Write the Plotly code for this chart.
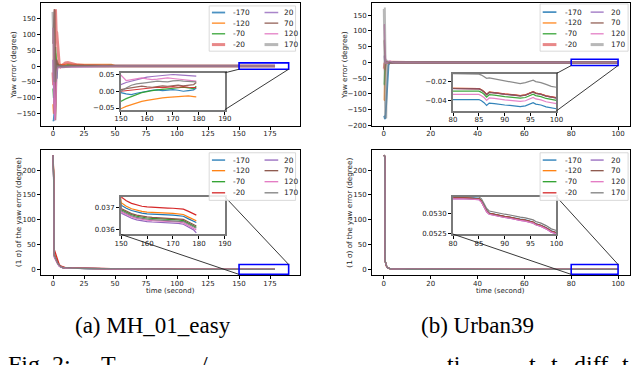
import plotly.graph_objects as go

W, H = 640, 365

series_labels = ["-170", "-120", "-70", "-20", "20", "70", "120", "170"]
series_colors = ["#1f77b4", "#ff7f0e", "#2ca02c", "#d62728",
                 "#9467bd", "#8c564b", "#e377c2", "#7f7f7f"]

# ---------------- MH_01_easy : time grids ----------------
t_mh_head = [0, 0.5, 1, 1.5, 2, 2.5, 3, 3.5, 4, 5, 6, 8, 10, 12, 15, 20, 25, 30,
             40, 47, 50, 60, 80, 100, 120, 140]
t_mh_tail = [150, 152, 154, 156, 158, 160, 162, 164, 166, 168, 170, 172, 174,
             176, 178, 179]

# yaw error (degree), MH_01_easy
yaw_mh_head = [
    [-170, -172, -150, -60, 20, -10, -40, -5, 2, 0, -2, -3, -1, 1, 0, -1, 0, 0.5, 0, 0.5, 0.2, 0.1, 0.05, 0.02, 0.01, 0.0],
    [-120, -150, -100, -30, 40, 10, -10, 5, 0, 3, 5, 4, 5, 6, 5, 4, 5, 5, 4, 5, 1, 0.5, 0.1, 0.05, 0.0, -0.02],
    [-70, -100, -40, 20, 60, 30, -5, 10, 5, 2, 0, -2, 1, 3, 2, 1, 0, 1, 0, 2, 0.3, 0.1, 0.05, 0.02, 0.0, -0.01],
    [-20, -60, 50, 150, 178, 110, 105, 80, 40, 5, -2, 5, 10, 11, 8, 3, 2, 1, 0.5, 0.5, 0.2, 0.1, 0.05, 0.02, 0.01, 0.0],
    [20, -80, -150, -30, 20, 10, -10, 0, -5, -2, -3, -4, -3, -2, -2, -3, -2, -1, -2, -1, -0.3, 0.1, 0.05, 0.05, 0.04, 0.04],
    [70, 150, 178, 175, -170, -120, 20, 10, 5, 0, 2, 0, -1, 0, 1, 0, 0, 0.5, 0.3, 0.2, 0.1, 0.05, 0.03, 0.02, 0.01, 0.01],
    [120, 60, -120, -170, -140, -60, -20, -10, -5, -3, -5, -4, -5, -4, -3, -2, -3, -2, -1, -2, -0.5, -0.2, 0.05, 0.04, 0.04, 0.04],
    [170, 120, 20, -50, -45, -10, 0, -2, -1, 0, -1, -2, -1, 0, 0.5, 0.3, 0.2, 0.1, 0.1, 0.1, 0.05, 0.03, 0.02, 0.02, 0.01, 0.0],
]
yaw_mh_tail = [
    [-0.004, -0.008, -0.01, -0.006, -0.002, 0.0, 0.003, 0.004, 0.002, 0.004, 0.005, 0.003, 0.0, 0.002, 0.004, 0.01],
    [-0.052, -0.045, -0.04, -0.034, -0.03, -0.027, -0.024, -0.022, -0.02, -0.018, -0.017, -0.015, -0.013, -0.014, -0.016, -0.017],
    [-0.03, -0.022, -0.015, -0.01, -0.004, 0.0, 0.002, 0.004, 0.006, 0.008, 0.009, 0.011, 0.012, 0.01, 0.008, 0.015],
    [0.0, 0.002, 0.004, 0.005, 0.007, 0.009, 0.01, 0.012, 0.011, 0.013, 0.014, 0.012, 0.014, 0.012, 0.01, 0.011],
    [0.02, 0.026, 0.03, 0.035, 0.04, 0.042, 0.044, 0.046, 0.047, 0.049, 0.05, 0.049, 0.048, 0.047, 0.046, 0.045],
    [0.005, 0.008, 0.01, 0.014, 0.015, 0.013, 0.012, 0.014, 0.016, 0.015, 0.017, 0.018, 0.016, 0.018, 0.02, 0.026],
    [0.048, 0.032, 0.034, 0.038, 0.04, 0.037, 0.035, 0.036, 0.038, 0.04, 0.038, 0.036, 0.035, 0.034, 0.032, 0.03],
    [0.0, 0.01, 0.018, 0.022, 0.025, 0.026, 0.028, 0.03, 0.029, 0.028, 0.031, 0.032, 0.03, 0.029, 0.028, 0.028],
]

# 1-sigma of yaw error (degree), MH_01_easy
sig_mh_head = [
    [230, 190, 30, 25, 22, 20, 18, 15, 12, 8, 6, 3.5, 3, 2.8, 2.6, 2.3, 2.1, 1.9, 1.7, 1.4, 1.0, 0.6, 0.3, 0.15, 0.08, 0.05],
    [230, 195, 33, 28, 25, 22, 20, 16, 13, 9, 6.5, 4, 3.2, 3, 2.7, 2.4, 2.2, 2.0, 1.8, 1.5, 1.0, 0.6, 0.3, 0.15, 0.08, 0.05],
    [230, 185, 28, 24, 21, 19, 17, 14, 11, 7.5, 5.5, 3.5, 3, 2.8, 2.5, 2.2, 2.0, 1.8, 1.6, 1.3, 0.9, 0.5, 0.28, 0.14, 0.07, 0.05],
    [230, 200, 40, 36, 33, 31, 28, 22, 18, 10, 7, 4.5, 3.5, 3.2, 2.9, 2.6, 2.4, 2.1, 1.9, 1.6, 1.1, 0.7, 0.35, 0.17, 0.09, 0.05],
    [230, 180, 25, 22, 19, 17, 15, 12, 10, 7, 5, 3.2, 2.8, 2.6, 2.4, 2.1, 1.9, 1.7, 1.5, 1.2, 0.9, 0.5, 0.27, 0.13, 0.07, 0.05],
    [230, 185, 27, 23, 20, 18, 16, 13, 11, 7.5, 5.5, 3.4, 2.9, 2.7, 2.5, 2.2, 2.0, 1.8, 1.6, 1.3, 0.9, 0.55, 0.28, 0.14, 0.07, 0.05],
    [230, 182, 26, 22, 20, 18, 15, 13, 10, 7, 5, 3.3, 2.8, 2.6, 2.4, 2.1, 1.9, 1.7, 1.5, 1.2, 0.9, 0.5, 0.27, 0.13, 0.07, 0.05],
    [230, 188, 29, 25, 22, 20, 17, 14, 11.5, 8, 5.8, 3.6, 3, 2.8, 2.5, 2.2, 2.0, 1.8, 1.6, 1.3, 0.95, 0.55, 0.28, 0.14, 0.07, 0.05],
]
sig_mh_tail = [
    [0.0371, 0.03696, 0.03686, 0.03679, 0.03674, 0.03671, 0.03669, 0.03668, 0.03667, 0.03666, 0.03665, 0.03663, 0.0366, 0.03648, 0.03637, 0.03632],
    [0.03721, 0.03705, 0.03694, 0.03687, 0.03682, 0.03679, 0.03677, 0.03676, 0.03675, 0.03674, 0.03673, 0.03671, 0.03668, 0.03656, 0.03645, 0.0364],
    [0.0369, 0.03677, 0.03667, 0.0366, 0.03655, 0.03652, 0.0365, 0.03649, 0.03648, 0.03647, 0.03646, 0.03644, 0.0364, 0.03628, 0.03615, 0.0361],
    [0.03747, 0.0373, 0.03718, 0.0371, 0.03705, 0.03702, 0.037, 0.03699, 0.03698, 0.03697, 0.03696, 0.03694, 0.03692, 0.03682, 0.0367, 0.03665],
    [0.03674, 0.03661, 0.03651, 0.03644, 0.03639, 0.03636, 0.03634, 0.03633, 0.03632, 0.03631, 0.0363, 0.03628, 0.03624, 0.03612, 0.03598, 0.03585],
    [0.03695, 0.03682, 0.03672, 0.03665, 0.0366, 0.03657, 0.03655, 0.03654, 0.03653, 0.03652, 0.03651, 0.03649, 0.03646, 0.03634, 0.03622, 0.03616],
    [0.0368, 0.03667, 0.03657, 0.0365, 0.03645, 0.03642, 0.0364, 0.03639, 0.03638, 0.03637, 0.03636, 0.03634, 0.0363, 0.03618, 0.03604, 0.03598],
    [0.03685, 0.03672, 0.03662, 0.03655, 0.0365, 0.03647, 0.03645, 0.03644, 0.03643, 0.03642, 0.03641, 0.03639, 0.03636, 0.03624, 0.03612, 0.03606],
]

# ---------------- Urban39 : time grids ----------------
t_ur_head = [0, 0.2, 0.4, 0.6, 0.8, 1.0, 1.3, 1.6, 2, 2.5, 3, 3.5, 4, 5, 7, 10, 20, 40, 60, 75]
t_ur_tail = [80, 82, 84, 85, 85.5, 86, 86.5, 87, 88, 89, 90, 91, 92, 93, 94, 95, 95.5,
             96, 97, 98, 99, 100]

yaw_ur_head = [
    [-170, -172, -178, -180, -160, -130, -85, -40, -8, -2, 0, -1, 0, 0.5, 0.2, 0.1, 0.0, -0.01, -0.02, -0.025],
    [-120, -120, -60, -10, -3, 2, 1, 0, 0, -0.5, 0, 0.3, 0, 0.2, 0.1, 0.0, -0.01, -0.02, -0.025, -0.027],
    [-70, -70, -30, -5, 0, 1, 0.5, 0, 0.2, 0, -0.3, 0.1, 0, 0.1, 0.05, 0, -0.01, -0.02, -0.025, -0.03],
    [-20, -20, -5, 0, 1, 0.5, 0, 0.2, 0, 0, 0.2, 0.1, 0, 0.1, 0.05, 0, -0.01, -0.02, -0.025, -0.027],
    [20, 20, 5, 0, -1, 0.5, 0, 0.2, 0, 0, 0.2, 0.1, 0, 0.1, 0.05, 0, -0.01, -0.02, -0.025, -0.027],
    [70, 70, 30, 5, 0, 1, 0, 0.5, 0, 0, 0.3, 0.1, 0, 0.1, 0.05, 0, -0.01, -0.02, -0.025, -0.027],
    [120, 120, 60, 10, -5, -2, 0, 2, 4, 5, 3, 1, 0, 0.3, 0.1, 0.0, -0.02, -0.025, -0.03, -0.033],
    [170, 170, 60, -100, -178, -60, -5, 2, 0, 0.5, 0.2, 0.1, 0, 0.1, 0.05, 0.0, -0.005, -0.01, -0.01, -0.011],
]
yaw_ur_tail = [
    [-0.0392, -0.039, -0.0393, -0.0392, -0.0405, -0.0425, -0.0455, -0.043, -0.0435, -0.0445, -0.045, -0.0455, -0.0465, -0.0467, -0.046, -0.0435, -0.0425, -0.044, -0.045, -0.047, -0.048, -0.049],
    [-0.0275, -0.0273, -0.0276, -0.0275, -0.0288, -0.0308, -0.0338, -0.0313, -0.0318, -0.0328, -0.0333, -0.0338, -0.0348, -0.035, -0.0343, -0.0318, -0.0308, -0.0323, -0.0333, -0.0353, -0.0363, -0.0373],
    [-0.0302, -0.03, -0.0303, -0.0302, -0.0315, -0.0335, -0.0365, -0.034, -0.0345, -0.0355, -0.036, -0.0365, -0.0375, -0.0377, -0.037, -0.0345, -0.0335, -0.035, -0.036, -0.038, -0.039, -0.04],
    [-0.0274, -0.0272, -0.0275, -0.0274, -0.0287, -0.0307, -0.0337, -0.0312, -0.0317, -0.0327, -0.0332, -0.0337, -0.0347, -0.0349, -0.0342, -0.0317, -0.0307, -0.0322, -0.0332, -0.0352, -0.0362, -0.0372],
    [-0.0278, -0.0276, -0.0279, -0.0278, -0.0291, -0.0311, -0.0341, -0.0316, -0.0321, -0.0331, -0.0336, -0.0341, -0.0351, -0.0353, -0.0346, -0.0321, -0.0311, -0.0326, -0.0336, -0.0356, -0.0366, -0.0376],
    [-0.0277, -0.0275, -0.0278, -0.0277, -0.029, -0.031, -0.034, -0.0315, -0.032, -0.033, -0.0335, -0.034, -0.035, -0.0352, -0.0345, -0.032, -0.031, -0.0325, -0.0335, -0.0355, -0.0365, -0.0375],
    [-0.0337, -0.0335, -0.0338, -0.0337, -0.035, -0.037, -0.04, -0.0375, -0.038, -0.039, -0.0395, -0.04, -0.041, -0.0412, -0.0405, -0.038, -0.037, -0.0385, -0.0395, -0.0415, -0.0425, -0.0435],
    [-0.0115, -0.012, -0.0118, -0.012, -0.013, -0.015, -0.0165, -0.016, -0.017, -0.018, -0.019, -0.0205, -0.0215, -0.0222, -0.021, -0.0195, -0.0185, -0.02, -0.021, -0.023, -0.025, -0.026],
]

sig_ur_head = [
    [230, 229, 228, 16, 10, 7, 4.5, 3, 2, 1.5, 1.2, 1.0, 0.8, 0.6, 0.4, 0.3, 0.15, 0.08, 0.06, 0.055],
    [230, 229, 228, 16, 10, 7, 4.5, 3, 2, 1.5, 1.2, 1.0, 0.8, 0.6, 0.4, 0.3, 0.15, 0.08, 0.06, 0.055],
    [230, 229, 228, 15.5, 9.8, 6.9, 4.4, 3, 2, 1.5, 1.2, 1.0, 0.8, 0.6, 0.4, 0.3, 0.15, 0.08, 0.06, 0.055],
    [230, 229, 228, 16.5, 10.2, 7.1, 4.6, 3.1, 2.1, 1.5, 1.2, 1.0, 0.8, 0.6, 0.4, 0.3, 0.15, 0.08, 0.06, 0.055],
    [230, 229, 228, 15.5, 9.8, 6.9, 4.4, 3, 2, 1.5, 1.2, 1.0, 0.8, 0.6, 0.4, 0.3, 0.15, 0.08, 0.06, 0.055],
    [230, 229, 228, 16, 10, 7, 4.5, 3, 2, 1.5, 1.2, 1.0, 0.8, 0.6, 0.4, 0.3, 0.15, 0.08, 0.06, 0.055],
    [230, 229, 228, 16, 10, 7, 4.5, 3, 2, 1.5, 1.2, 1.0, 0.8, 0.6, 0.4, 0.3, 0.15, 0.08, 0.06, 0.055],
    [230, 229, 228, 16.5, 10.3, 7.2, 4.6, 3.1, 2.1, 1.6, 1.2, 1.0, 0.8, 0.6, 0.4, 0.3, 0.15, 0.08, 0.06, 0.055],
]
sig_ur_tail = [
    [0.05339, 0.05339, 0.05338, 0.05337, 0.05331, 0.05319, 0.05307, 0.05301, 0.05298, 0.05295, 0.05293, 0.05291, 0.05288, 0.05286, 0.05284, 0.05281, 0.05279, 0.05275, 0.05271, 0.05265, 0.05257, 0.05253],
    [0.05338, 0.05338, 0.05337, 0.05336, 0.0533, 0.05318, 0.05306, 0.053, 0.05297, 0.05294, 0.05292, 0.0529, 0.05287, 0.05285, 0.05283, 0.0528, 0.05278, 0.05274, 0.0527, 0.05264, 0.05256, 0.05252],
    [0.05337, 0.05337, 0.05336, 0.05335, 0.05329, 0.05317, 0.05305, 0.05299, 0.05296, 0.05293, 0.05291, 0.05289, 0.05286, 0.05284, 0.05282, 0.05279, 0.05277, 0.05273, 0.05269, 0.05263, 0.05255, 0.05251],
    [0.05338, 0.05338, 0.05337, 0.05336, 0.0533, 0.05318, 0.05306, 0.053, 0.05297, 0.05294, 0.05292, 0.0529, 0.05287, 0.05285, 0.05283, 0.0528, 0.05278, 0.05274, 0.0527, 0.05264, 0.05256, 0.05252],
    [0.05336, 0.05336, 0.05335, 0.05334, 0.05328, 0.05316, 0.05304, 0.05298, 0.05295, 0.05292, 0.0529, 0.05288, 0.05285, 0.05283, 0.05281, 0.05278, 0.05276, 0.05272, 0.05268, 0.05262, 0.05254, 0.0525],
    [0.05338, 0.05338, 0.05337, 0.05336, 0.0533, 0.05318, 0.05306, 0.053, 0.05297, 0.05294, 0.05292, 0.0529, 0.05287, 0.05285, 0.05283, 0.0528, 0.05278, 0.05274, 0.0527, 0.05264, 0.05256, 0.05252],
    [0.05336, 0.05336, 0.05335, 0.05334, 0.05328, 0.05316, 0.05304, 0.05298, 0.05295, 0.05292, 0.0529, 0.05288, 0.05285, 0.05283, 0.05281, 0.05278, 0.05276, 0.05272, 0.05268, 0.05262, 0.05254, 0.0525],
    [0.05343, 0.05343, 0.05342, 0.05341, 0.05336, 0.05324, 0.05312, 0.05306, 0.05303, 0.053, 0.05298, 0.05296, 0.05293, 0.05291, 0.05289, 0.05286, 0.05284, 0.0528, 0.05276, 0.0527, 0.05262, 0.05258],
]

# ---------------- text ----------------
ylabel_yaw = "Yaw error (degree)"
ylabel_sig = "(1 σ) of the yaw error (degree)"
xlabel = "time (second)"
caption_a = "(a) MH_01_easy"
caption_b = "(b) Urban39"
# the figure caption below is only partly visible (cut by the image edge)
fig_caption_fragments = ["Fig. 2:", "T", "/", "ti", "t", "t", "diff", "t"]
fig_caption_fragment_x = [-1, 94, 196, 448, 532, 554, 578, 627]

# ---------------- geometry helpers ----------------
def fx(px):
    return px / W

def fy(py):
    return 1 - py / H

TICKFONT = dict(family="DejaVu Sans", size=7, color="#222")

# main panels: pixel box (left, right, top, bottom)
panels = [
    dict(box=(35, 300, 1, 126), xr=(-9.5, 199.5), yr=(-188, 198), dx=25, dy=50,
         t=t_mh_head + t_mh_tail, head=yaw_mh_head, tail=yaw_mh_tail, top=True,
         ylabel=ylabel_yaw, ylab_x=6.5),
    dict(box=(373.3, 636.7, 1, 126), xr=(-5, 105), yr=(-202, 189), dx=20, dy=50,
         t=t_ur_head + t_ur_tail, head=yaw_ur_head, tail=yaw_ur_tail, top=True,
         ylabel=ylabel_yaw, ylab_x=345),
    dict(box=(35, 300, 150, 277.7), xr=(-9.5, 199.5), yr=(-11.5, 241.5), dx=25, dy=50,
         t=t_mh_head + t_mh_tail, head=sig_mh_head, tail=sig_mh_tail, top=False,
         ylabel=ylabel_sig, ylab_x=12),
    dict(box=(373.3, 636.7, 150, 277.7), xr=(-5, 105), yr=(-11.5, 241.5), dx=20, dy=50,
         t=t_ur_head + t_ur_tail, head=sig_ur_head, tail=sig_ur_tail, top=False,
         ylabel=ylabel_sig, ylab_x=350),
]
insets = [
    dict(box=(116.5, 222.7, 72, 109.5), xr=(150, 190), yr=(-0.055, 0.055), dx=10,
         yt=[-0.05, 0.0, 0.05], fmt=".2f"),
    dict(box=(456, 561.7, 72.7, 110.7), xr=(80, 100), yr=(-0.0513, -0.0113), dx=5,
         yt=[-0.04, -0.02], fmt=".2f"),
    dict(box=(116.7, 222.7, 198, 236.3), xr=(150, 190), yr=(0.03578, 0.03748), dx=10,
         yt=[0.036, 0.037], fmt=".3f"),
    dict(box=(456, 561.7, 198, 236), xr=(80, 100), yr=(0.05249, 0.05341), dx=5,
         yt=[0.0525, 0.0530], fmt=".4f"),
]
zoom_half_height = 10

legends = [
    dict(box=(206.7, 295, 4, 50), rows=(10.7, 21.5, 32.3, 43.3),
         cols=((209.5, 223, 229.3), (263.3, 277.3, 280.7))),
    dict(box=(545, 635, 2, 50), rows=(10.3, 21.3, 32.3, 43.3),
         cols=((547.7, 561.7, 568.3), (596.7, 610, 615))),
    dict(box=(206.7, 295, 153.3, 201.7), rows=(160.7, 171.5, 182.7, 194),
         cols=((209.5, 223, 229.3), (263.3, 277.3, 280.7))),
    dict(box=(545, 635, 153.3, 201.7), rows=(160.7, 171.5, 182.7, 194),
         cols=((547.7, 561.7, 568.3), (596.7, 610, 615))),
]

top_widths = [1.8, 1.5, 1.5, 3.0, 1.5, 1.5, 1.5, 3.0]
top_opac = [0.8, 0.8, 0.8, 0.55, 0.8, 0.8, 0.8, 0.55]

fig = go.Figure()
layout = dict(
    width=W, height=H, margin=dict(l=0, r=0, t=0, b=0),
    paper_bgcolor="white", plot_bgcolor="white", showlegend=False,
    font=dict(family="DejaVu Sans", size=7, color="#222"),
)
shapes = []
annotations = []


def axis_keys(i):
    s = "" if i == 1 else str(i)
    return "xaxis" + s, "yaxis" + s, "x" + s, "y" + s


def base_axis():
    return dict(showgrid=False, zeroline=False, showline=True, mirror=True,
                linecolor="black", linewidth=1, ticks="outside", ticklen=3,
                tickwidth=0.8, tickcolor="black", tickfont=TICKFONT)


def to_paper(p, xv, yv):
    l, r, t, b = p["box"]
    xr, yr = p["xr"], p["yr"]
    px = l + (xv - xr[0]) / (xr[1] - xr[0]) * (r - l)
    py = b - (yv - yr[0]) / (yr[1] - yr[0]) * (b - t)
    return fx(px), fy(py)


for i, p in enumerate(panels, start=1):
    xk, yk, xa, ya = axis_keys(i)
    l, r, t, b = p["box"]
    ax = base_axis()
    ax.update(domain=[fx(l), fx(r)], range=list(p["xr"]), anchor=ya,
              tick0=0, dtick=p["dx"], ticklabelstandoff=-2)
    ay = base_axis()
    ay.update(domain=[fy(b), fy(t)], range=list(p["yr"]), anchor=xa,
              tick0=0, dtick=p["dy"])
    layout[xk] = ax
    layout[yk] = ay

    # inset axes
    j = i + 4
    ixk, iyk, ixa, iya = axis_keys(j)
    ins = insets[i - 1]
    il, ir, it, ib = ins["box"]
    iax = base_axis()
    iax.update(domain=[fx(il), fx(ir)], range=list(ins["xr"]), anchor=iya,
               tick0=ins["xr"][0], dtick=ins["dx"], linecolor="#7a7a7a", linewidth=2,
               ticklabelstandoff=-2)
    iay = base_axis()
    iay.update(domain=[fy(ib), fy(it)], range=list(ins["yr"]), anchor=ixa,
               tickvals=ins["yt"], tickformat=ins["fmt"], linecolor="#7a7a7a", linewidth=2)
    layout[ixk] = iax
    layout[iyk] = iay

    for k in range(8):
        ys = p["head"][k] + p["tail"][k]
        if p["top"]:
            lw, op = top_widths[k], top_opac[k]
        else:
            lw, op = 1.3, 1.0
        fig.add_trace(go.Scatter(x=p["t"], y=ys, mode="lines", xaxis=xa, yaxis=ya,
                                 name=series_labels[k], opacity=op,
                                 line=dict(color=series_colors[k], width=lw)))
    for k in range(8):
        ys = p["head"][k] + p["tail"][k]
        fig.add_trace(go.Scatter(x=p["t"], y=ys, mode="lines", xaxis=ixa, yaxis=iya,
                                 name=series_labels[k], opacity=0.9 if p["top"] else 1.0,
                                 line=dict(color=series_colors[k], width=1.2)))

    # zoom rectangle in the main axes
    zx0, zx1 = ins["xr"]
    shapes.append(dict(type="rect", xref=xa, yref=ya, x0=zx0, x1=zx1,
                       y0=-zoom_half_height, y1=zoom_half_height,
                       line=dict(color="#0000ff", width=1.6), layer="above"))
    # connectors
    if p["top"]:
        pairs = [((ir, it), (zx0, -zoom_half_height)),
                 ((ir, ib), (zx1, -zoom_half_height))]
    else:
        pairs = [((ir, it), (zx1, zoom_half_height)),
                 ((il, ib), (zx0, -zoom_half_height))]
    for (cpx, cpy), (dxv, dyv) in pairs:
        qx, qy = to_paper(p, dxv, dyv)
        shapes.append(dict(type="line", xref="paper", yref="paper",
                           x0=fx(cpx), y0=fy(cpy), x1=qx, y1=qy,
                           line=dict(color="#222", width=0.9), layer="above"))

    # y label
    annotations.append(dict(text=p["ylabel"], x=fx(p["ylab_x"]), y=fy((t + b) / 2),
                            xref="paper", yref="paper", showarrow=False, textangle=-90,
                            font=dict(family="DejaVu Sans", size=7.2, color="#222"),
                            xanchor="center", yanchor="middle"))
    if not p["top"]:
        annotations.append(dict(text=xlabel, x=fx((l + r) / 2), y=fy(294),
                                xref="paper", yref="paper", showarrow=False,
                                font=dict(family="DejaVu Sans", size=7, color="#222"),
                                xanchor="center", yanchor="middle"))

    # legend
    lg = legends[i - 1]
    bl, br, bt, bb = lg["box"]
    shapes.append(dict(type="rect", xref="paper", yref="paper",
                       x0=fx(bl), x1=fx(br), y0=fy(bb), y1=fy(bt),
                       fillcolor="rgba(255,255,255,0.85)",
                       line=dict(color="#d0d0d0", width=0.8), layer="above"))
    for k in range(8):
        c = k // 4
        rrow = k % 4
        x0, x1, tx = lg["cols"][c]
        yy = lg["rows"][rrow]
        if p["top"]:
            lw, op = top_widths[k], top_opac[k]
        else:
            lw, op = 1.3, 1.0
        shapes.append(dict(type="line", xref="paper", yref="paper",
                           x0=fx(x0), x1=fx(x1), y0=fy(yy), y1=fy(yy), opacity=op,
                           line=dict(color=series_colors[k], width=lw), layer="above"))
        annotations.append(dict(text=series_labels[k], x=fx(tx), y=fy(yy),
                                xref="paper", yref="paper", showarrow=False,
                                xanchor="left", yanchor="middle",
                                font=dict(family="DejaVu Sans", size=7.4, color="#222")))

# captions
SERIF = "Liberation Serif"
annotations.append(dict(text=caption_a, x=fx(149), y=fy(329), xref="paper", yref="paper",
                        showarrow=False, xanchor="center", yanchor="middle",
                        font=dict(family=SERIF, size=23, color="black")))
annotations.append(dict(text=caption_b, x=fx(481), y=fy(329), xref="paper", yref="paper",
                        showarrow=False, xanchor="center", yanchor="middle",
                        font=dict(family=SERIF, size=23, color="black")))
for frag, fxp in zip(fig_caption_fragments, fig_caption_fragment_x):
    annotations.append(dict(text=frag, x=fx(fxp), y=fy(368), xref="paper", yref="paper",
                            showarrow=False, xanchor="left", yanchor="middle",
                            font=dict(family=SERIF, size=24, color="black")))

layout["shapes"] = shapes
layout["annotations"] = annotations
fig.update_layout(**layout)
fig.write_html("out.html", config={"displayModeBar": False},
               post_script="document.body.style.margin='0';document.body.style.padding='0';")
